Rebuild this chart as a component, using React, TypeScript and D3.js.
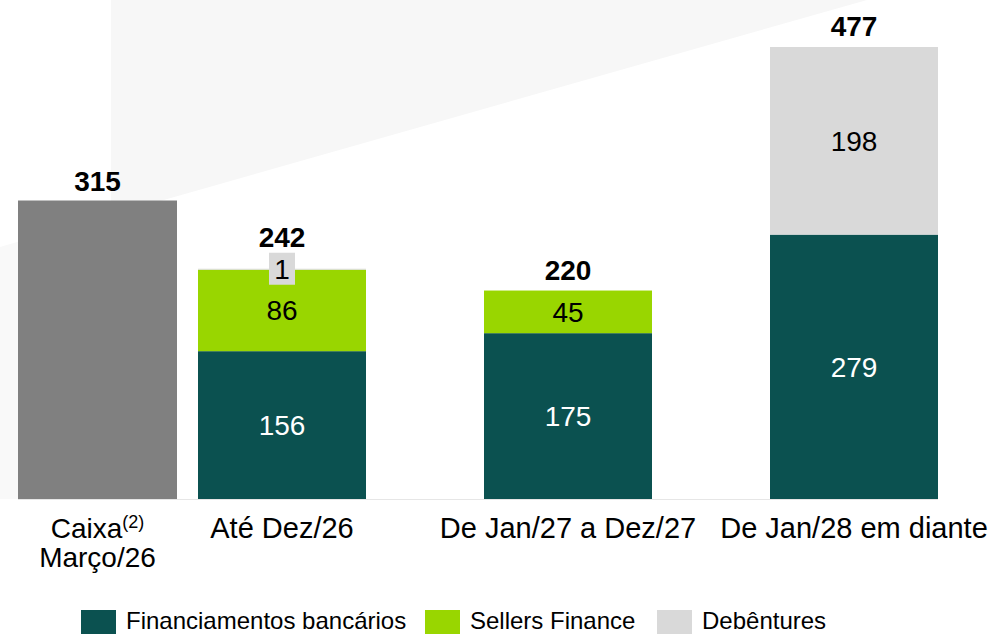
import * as d3 from 'd3';

// dados (R$ milhões)
const categories = ['Até Dez/26', 'De Jan/27 a Dez/27', 'De Jan/28 em diante'];
const financiamentos = [156, 175, 279];
const sellersFinance = [86, 45, 0];
const debentures = [1, 0, 198];
const totals = [242, 220, 477]; // totais publicados (arredondados)
const caixaValue = 315;
const caixaLines = ['Caixa', 'Março/26'];
const seriesNames = ['Financiamentos bancários', 'Sellers Finance', 'Debêntures'];
const seriesKeys = ['fin', 'sel', 'deb'];
const seriesColors = ['#0b5150', '#99d600', '#d9d9d9'];
const labelColors = ['#ffffff', '#000000', '#000000'];

const W = 992;
const H = 634;
const FONT = 'Arial, "Liberation Sans", sans-serif';
const FS = 28;

export default function App() {
  const rows = categories.map((c, i) => ({
    cat: c,
    fin: financiamentos[i],
    sel: sellersFinance[i],
    deb: debentures[i],
  }));

  const stacked = d3.stack<any>().keys(seriesKeys)(rows);

  const y = d3.scaleLinear().domain([0, 477]).range([499, 47]);

  const x = d3.scaleBand()
    .domain(categories)
    .range([139, 997])
    .paddingInner(0.4126)
    .paddingOuter(0.2063);

  const xCaixa = d3.scaleBand().domain(['Caixa']).range([18, 177]).padding(0);
  const caixaCx = xCaixa('Caixa')! + xCaixa.bandwidth() / 2;

  const bw = x.bandwidth();

  return (
    <svg
      width={W}
      height={H}
      style={{ position: 'absolute', left: 0, top: 0, display: 'block', background: '#fff' }}
      fontFamily={FONT}
    >
      {/* marca d'água de fundo */}
      <polygon points="111,0 867,0 111,215" fill="#f7f7f7" />
      <polygon points="0,247 111,215 111,499 0,499" fill="#f9f9f9" />

      {/* linha de base */}
      <line x1={18} x2={938} y1={y(0) + 0.5} y2={y(0) + 0.5} stroke="#e6e6e6" strokeWidth={1} />

      {/* Caixa */}
      <rect
        x={xCaixa('Caixa')}
        y={y(caixaValue)}
        width={xCaixa.bandwidth()}
        height={y(0) - y(caixaValue)}
        fill="#808080"
      />
      <text x={caixaCx} y={y(caixaValue) - 10} textAnchor="middle" fontSize={FS} fontWeight="bold">
        {caixaValue}
      </text>
      <text x={caixaCx} y={538} textAnchor="middle" fontSize={FS}>
        {caixaLines[0]}
        <tspan fontSize={18} dy={-10}>(2)</tspan>
      </text>
      <text x={caixaCx} y={567} textAnchor="middle" fontSize={FS}>
        {caixaLines[1]}
      </text>

      {/* barras empilhadas */}
      {stacked.map((s, si) => (
        <g key={s.key}>
          {s.map((d, i) => {
            const v = d[1] - d[0];
            if (v <= 0) return null;
            const x0 = x(categories[i])!;
            const top = y(d[1]);
            const h = y(d[0]) - y(d[1]);
            const cx = x0 + bw / 2;
            const small = h < 20;
            return (
              <g key={i}>
                <rect x={x0} y={top} width={bw} height={h} fill={seriesColors[si]} />
                {small ? (
                  <g>
                    <rect x={cx - 13} y={top - 16} width={26} height={32} fill={seriesColors[si]} />
                    <text x={cx} y={top + 10} textAnchor="middle" fontSize={FS} fill={labelColors[si]}>
                      {v}
                    </text>
                  </g>
                ) : (
                  <text
                    x={cx}
                    y={(top + y(d[0])) / 2 + 10}
                    textAnchor="middle"
                    fontSize={FS}
                    fill={labelColors[si]}
                  >
                    {v}
                  </text>
                )}
              </g>
            );
          })}
        </g>
      ))}

      {/* totais */}
      {rows.map((r, i) => {
        const topSeg = stacked[stacked.length - 1][i];
        const top = y(topSeg[1]);
        const hasSmallTop = r.deb > 0 && y(topSeg[0]) - y(topSeg[1]) < 20;
        const ty = hasSmallTop ? top - 22 : top - 11;
        return (
          <text
            key={r.cat}
            x={x(r.cat)! + bw / 2}
            y={ty}
            textAnchor="middle"
            fontSize={FS}
            fontWeight="bold"
          >
            {totals[i]}
          </text>
        );
      })}

      {/* rótulos das categorias */}
      {categories.map(c => (
        <text key={c} x={x(c)! + bw / 2} y={538} textAnchor="middle" fontSize={29}>
          {c}
        </text>
      ))}

      {/* legenda */}
      {seriesNames.map((n, i) => {
        const lx = [81, 425, 657][i];
        return (
          <g key={n} transform={`translate(${lx},610)`}>
            <rect width={35} height={26} fill={seriesColors[i]} />
            <text x={45} y={19} fontSize={24} fill="#000">
              {n}
            </text>
          </g>
        );
      })}
    </svg>
  );
}
